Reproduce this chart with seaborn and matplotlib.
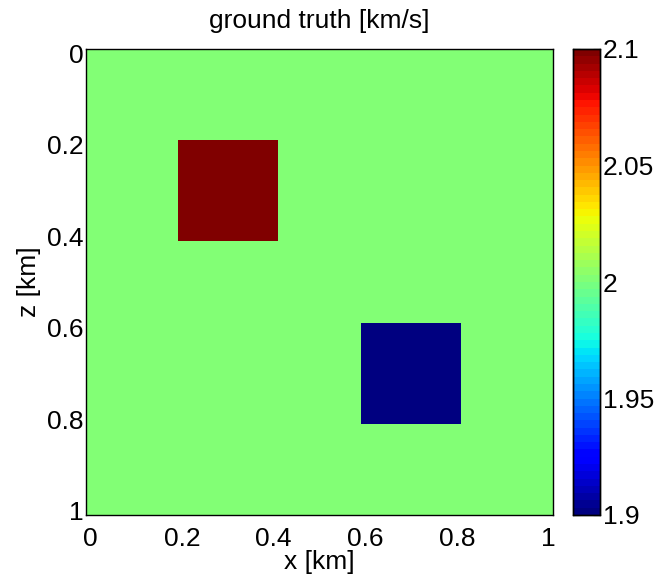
import numpy as np
import pandas as pd
import matplotlib
matplotlib.use("Agg")
import matplotlib.pyplot as plt
import seaborn as sns

# model definition
grid_step = 0.02
x_km = np.round(np.arange(0, 1 + 1e-9, grid_step), 2)
z_km = np.round(np.arange(0, 1 + 1e-9, grid_step), 2)
background_velocity = 2.0
anomaly_x_ranges = [(0.2, 0.4), (0.6, 0.8)]
anomaly_z_ranges = [(0.2, 0.4), (0.6, 0.8)]
anomaly_velocities = [2.1, 1.9]

tick_values = [0, 0.2, 0.4, 0.6, 0.8, 1]
tick_labels = ["0", "0.2", "0.4", "0.6", "0.8", "1"]
cbar_ticks = [1.9, 1.95, 2.0, 2.05, 2.1]
cbar_labels = ["1.9", "1.95", "2", "2.05", "2.1"]

vel = np.full((len(z_km), len(x_km)), background_velocity)
for (x0, x1), (z0, z1), v in zip(anomaly_x_ranges, anomaly_z_ranges, anomaly_velocities):
    xm = (x_km >= x0 - 1e-9) & (x_km <= x1 + 1e-9)
    zm = (z_km >= z0 - 1e-9) & (z_km <= z1 + 1e-9)
    vel[np.ix_(zm, xm)] = v
df = pd.DataFrame(vel, index=z_km, columns=x_km)

sns.set_theme(style="white")
plt.rcParams["font.family"] = ["Liberation Sans", "DejaVu Sans"]
plt.rcParams["text.color"] = "black"
plt.rcParams["axes.labelcolor"] = "black"
plt.rcParams["xtick.color"] = "black"
plt.rcParams["ytick.color"] = "black"
FS = 19

fig = plt.figure(figsize=(6.59, 5.82), dpi=100)
ax = fig.add_axes([86 / 659, 1 - 515 / 582, 467 / 659, 466 / 582])
cax = fig.add_axes([573 / 659, 1 - 515 / 582, 27 / 659, 466 / 582])

cmap = plt.get_cmap("jet", 64)
sns.heatmap(df, ax=ax, cbar_ax=cax, cmap=cmap, vmin=1.9, vmax=2.1,
            xticklabels=False, yticklabels=False)

n = len(x_km)
pos = [v / grid_step + 0.5 for v in tick_values]
ax.set_xlim(0, n)
ax.set_ylim(n, 0)
ax.set_xticks(pos)
ax.set_xticklabels(tick_labels, fontsize=FS, color="black")
ax.set_yticks(pos)
ax.set_yticklabels(tick_labels, fontsize=FS, rotation=0, color="black")
ax.tick_params(direction="in", length=5, width=0.8, top=True, right=True,
               bottom=True, left=True, color="black")
ax.tick_params(axis="x", pad=9)
ax.tick_params(axis="y", pad=2)
for s in ax.spines.values():
    s.set_visible(True)
    s.set_color("black")
    s.set_linewidth(1.0)
ax.set_xlabel("x [km]", fontsize=FS, labelpad=-1, color="black")
ax.set_ylabel("z [km]", fontsize=FS, labelpad=4, color="black")
ax.set_title("ground truth [km/s]", fontsize=FS, pad=15, color="black")

cax.set_yticks(cbar_ticks)
cax.set_yticklabels(cbar_labels, fontsize=FS, color="black")
cax.tick_params(direction="in", length=5, width=0.8, left=True, right=True,
                color="black", pad=2)
for s in cax.spines.values():
    s.set_visible(True)
    s.set_color("black")
    s.set_linewidth(1.0)

fig.savefig("out.png", dpi=100)
